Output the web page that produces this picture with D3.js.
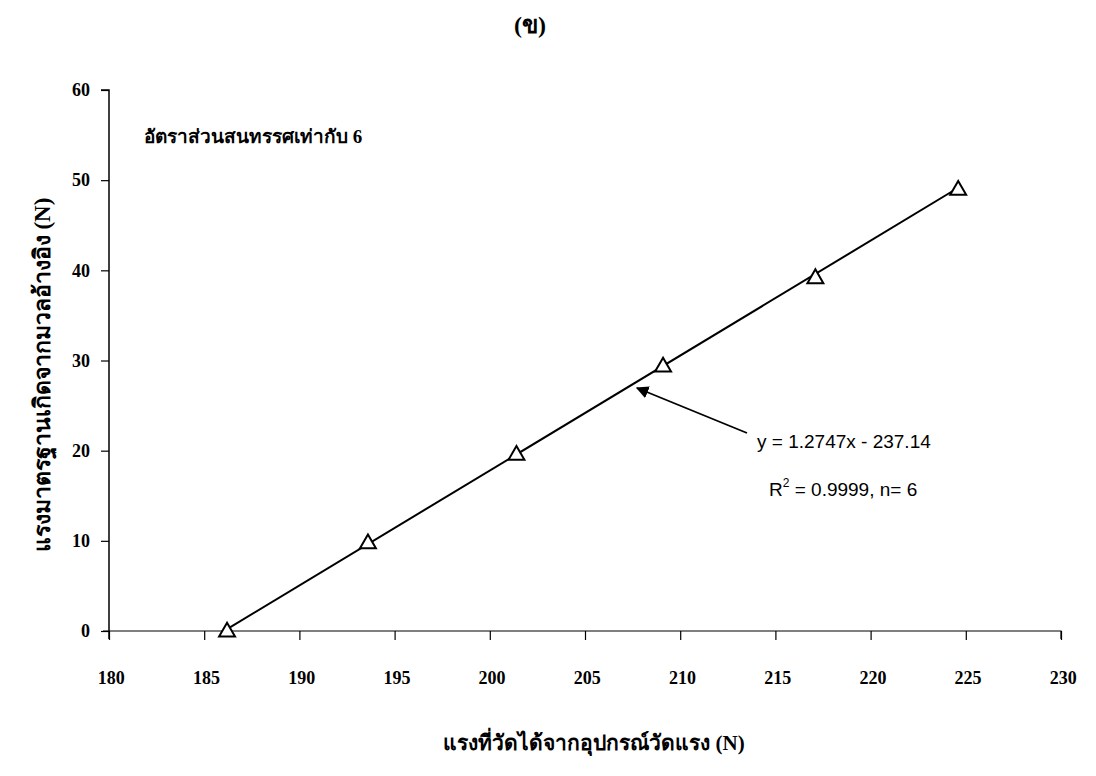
<!DOCTYPE html>
<html>
<head>
<meta charset="utf-8">
<script src="https://cdn.jsdelivr.net/npm/d3@7"></script>
<style>
  body { margin: 0; background: #fff; }
  svg { display: block; }
  .tick text { font-family: "Liberation Serif", "Times New Roman", serif; font-weight: bold; font-size: 18px; fill: #000; }
  .lbl { font-family: "Liberation Serif", "Times New Roman", serif; font-weight: bold; fill: #000; }
  .eq { font-family: "Liberation Sans", Arial, sans-serif; font-size: 19px; fill: #000; }
</style>
</head>
<body>
<script>
// measured force (N) vs reference force from standard masses (N)
var measured = [186.2, 193.6, 201.4, 209.1, 217.1, 224.6];
var reference = [0, 9.8, 19.6, 29.4, 39.2, 49.0];
var slope = 1.2747, intercept = -237.14;
var xTicks = [180, 185, 190, 195, 200, 205, 210, 215, 220, 225, 230];
var yTicks = [0, 10, 20, 30, 40, 50, 60];

var W = 1096, H = 776;
var svg = d3.select('body').append('svg').attr('width', W).attr('height', H);

var x = d3.scaleLinear().domain([180, 230]).range([109, 1061]);
var y = d3.scaleLinear().domain([0, 60]).range([631, 90]);

// y axis
var yAxis = svg.append('g').attr('transform', 'translate(' + x(180) + ',0)')
  .call(d3.axisLeft(y).tickValues(yTicks).tickSize(8).tickPadding(11));
yAxis.select('.domain').attr('stroke', '#000').attr('stroke-width', 1.5)
  .attr('d', 'M-8,' + y(60) + 'H0V' + (y(0) + 8));

// x axis
var xAxis = svg.append('g').attr('transform', 'translate(0,' + y(0) + ')')
  .call(d3.axisBottom(x).tickValues(xTicks).tickSize(9).tickPadding(31));
xAxis.select('.domain').attr('stroke', '#000').attr('stroke-width', 1.2)
  .attr('d', 'M' + (x(180) - 6) + ',0H' + x(230) + 'V8');
svg.selectAll('.tick line').attr('stroke', '#000').attr('stroke-width', 1.2);
xAxis.selectAll('.tick text').attr('dx', '0.1em');

// trendline over data range
var x0 = measured[0], x1 = measured[measured.length - 1];
svg.append('line')
  .attr('x1', x(x0)).attr('y1', y(Math.max(0, slope * x0 + intercept)))
  .attr('x2', x(x1)).attr('y2', y(slope * x1 + intercept))
  .attr('stroke', '#000').attr('stroke-width', 2);

// triangle markers
var tri = d3.symbol().type(d3.symbolTriangle).size(110);
svg.selectAll('path.pt').data(measured).enter().append('path')
  .attr('class', 'pt')
  .attr('d', tri)
  .attr('transform', function (d, i) { return 'translate(' + x(d) + ',' + (y(reference[i]) + 1) + ')'; })
  .attr('fill', '#fff').attr('stroke', '#000').attr('stroke-width', 2);

// arrow to trendline
svg.append('defs').append('marker')
  .attr('id', 'ah').attr('viewBox', '0 0 10 10').attr('refX', 9).attr('refY', 5)
  .attr('markerWidth', 7).attr('markerHeight', 7).attr('orient', 'auto')
  .append('path').attr('d', 'M0,0L10,5L0,10z').attr('fill', '#000');
svg.append('line')
  .attr('x1', 747).attr('y1', 433).attr('x2', 637).attr('y2', 388)
  .attr('stroke', '#000').attr('stroke-width', 1.8).attr('marker-end', 'url(#ah)');

// equation text
svg.append('text').attr('class', 'eq').attr('x', 757).attr('y', 448)
  .text('y = 1.2747x - 237.14');
var r = svg.append('text').attr('class', 'eq').attr('x', 769).attr('y', 496);
r.append('tspan').text('R');
r.append('tspan').attr('dy', -9).attr('font-size', 12).text('2');
r.append('tspan').attr('dy', 9).text(' = 0.9999, n= 6');

// titles
svg.append('text').attr('class', 'lbl').attr('x', 530).attr('y', 33)
  .attr('text-anchor', 'middle').attr('font-size', 24).text('(ข)');
svg.append('text').attr('class', 'lbl').attr('x', 144).attr('y', 143)
  .attr('font-size', 19).text('อัตราส่วนสนทรรศเท่ากับ 6');
svg.append('text').attr('class', 'lbl')
  .attr('transform', 'translate(50,375) rotate(-90)')
  .attr('text-anchor', 'middle').attr('font-size', 23)
  .text('แรงมาตรฐานเกิดจากมวลอ้างอิง (N)');
svg.append('text').attr('class', 'lbl').attr('x', 594).attr('y', 750)
  .attr('text-anchor', 'middle').attr('font-size', 21)
  .text('แรงที่วัดได้จากอุปกรณ์วัดแรง (N)');
</script>
</body>
</html>
